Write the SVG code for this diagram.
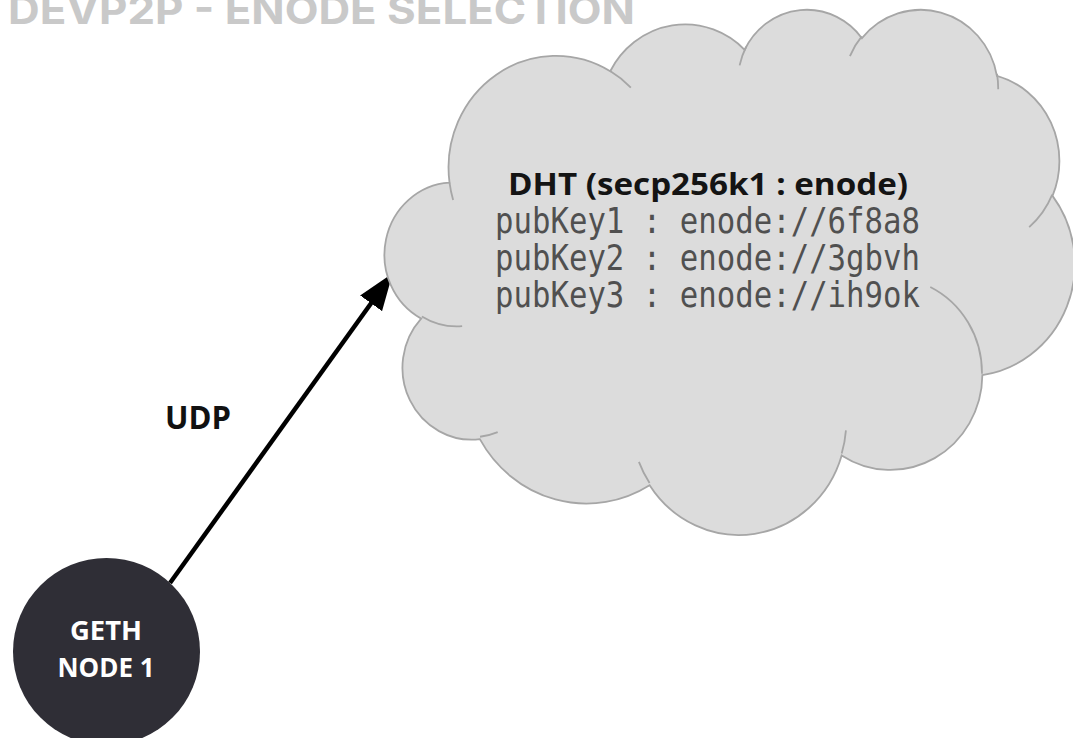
<svg xmlns="http://www.w3.org/2000/svg" width="1073" height="738" viewBox="0 0 1073 738">
  <style>
    .title { font-family: Inter, "Liberation Sans", sans-serif; font-weight: 700; fill: #c9c9c9; }
    .cloud-body { fill: #dcdcdc; stroke: #a6a6a6; stroke-width: 1.8; vector-effect: non-scaling-stroke; }
    .cloud-seam { fill: none; stroke: #a6a6a6; stroke-width: 1.8; vector-effect: non-scaling-stroke; }
    .heading { font-family: "Open Sans", "Liberation Sans", sans-serif; font-weight: 700; fill: #141414; }
    .mono { font-family: "DejaVu Sans Mono", "Liberation Mono", monospace; fill: #505050; }
    .label { font-family: "Open Sans", "Liberation Sans", sans-serif; font-weight: 700; fill: #111111; }
    .node-fill { fill: #2f2e36; }
    .node-text { font-family: "Open Sans", "Liberation Sans", sans-serif; font-weight: 700; fill: #ffffff; text-anchor: middle; }
    .wire { stroke: #000000; stroke-width: 4.5; fill: none; }
  </style>
  <defs>
    <marker id="arrowhead" markerUnits="userSpaceOnUse" viewBox="0 0 37 27" markerWidth="37" markerHeight="27" refX="17" refY="13.5" orient="auto">
      <path d="M0,0 L37,13.5 L0,27 Z" fill="#000000"/>
    </marker>
  </defs>

  <rect x="0" y="0" width="1073" height="738" fill="#ffffff"/>

  <!-- page title, partly above the top edge -->
  <text class="title" x="8" y="24" font-size="40" textLength="627" lengthAdjust="spacingAndGlyphs">DEVP2P - ENODE SELECTION</text>

  <!-- connectors -->
  <g id="connectors">
    <line id="udp-link" class="wire" x1="170" y1="583" x2="381" y2="289.5" marker-end="url(#arrowhead)"/>
    <text class="label" x="165" y="429" font-size="32" textLength="66" lengthAdjust="spacingAndGlyphs">UDP</text>
  </g>

  <!-- DHT cloud: drawn in a 43200 x 43200 unit box, then placed on the page -->
  <g id="dht-cloud">
    <g transform="translate(387.5,8) scale(0.015903,0.012153)">
      <path class="cloud-body" d="M3900 14370
        A6753 9190 0 0 1 14005 5202
        A5333 7267 0 0 1 22457 3436
        A4365 5945 0 0 1 29833 2482
        A4857 6595 0 0 1 38319 5578
        A5333 7273 0 0 1 41819 15461
        A6775 9220 0 0 1 37406 30207
        A5785 7867 0 0 1 28558 36817
        A6752 9215 0 0 1 16483 39271
        A7720 10543 0 0 1 5808 35480
        A4360 5918 0 0 1 2117 25558
        A4345 5945 0 0 1 3900 14370 Z"/>
      <path class="cloud-seam" d="M4693 26177 A4345 5945 0 0 1 2160 25380
        M6928 34899 A4360 5918 0 0 1 5820 35280
        M16478 39090 A6752 9215 0 0 1 15809 37346
        M28827 34751 A6752 9215 0 0 1 28561 36659
        M34129 22954 A5785 7867 0 0 1 37381 30090
        M41798 15354 A5333 7273 0 0 1 40349 18031
        M38324 5426 A4857 6595 0 0 1 38400 6690
        M29078 3952 A4857 6595 0 0 1 29820 2340
        M22141 4720 A4365 5945 0 0 1 22555 3186
        M14000 5192 A6753 9190 0 0 1 15302 6543
        M4127 15789 A6753 9190 0 0 1 3900 14370"/>
    </g>
    <text class="heading" x="508" y="195" font-size="31" textLength="400" lengthAdjust="spacingAndGlyphs">DHT (secp256k1 : enode)</text>
    <text class="mono" x="495" y="233" font-size="35" textLength="425" lengthAdjust="spacingAndGlyphs">pubKey1 : enode://6f8a8</text>
    <text class="mono" x="495" y="270" font-size="35" textLength="425" lengthAdjust="spacingAndGlyphs">pubKey2 : enode://3gbvh</text>
    <text class="mono" x="495" y="307" font-size="35" textLength="425" lengthAdjust="spacingAndGlyphs">pubKey3 : enode://ih9ok</text>
  </g>

  <!-- geth node -->
  <g id="geth-node-1">
    <circle class="node-fill" cx="106.5" cy="651.5" r="93.5"/>
    <text class="node-text" x="106" y="640" font-size="26" textLength="72" lengthAdjust="spacingAndGlyphs">GETH</text>
    <text class="node-text" x="106" y="677" font-size="26" textLength="97" lengthAdjust="spacingAndGlyphs">NODE 1</text>
  </g>
</svg>
